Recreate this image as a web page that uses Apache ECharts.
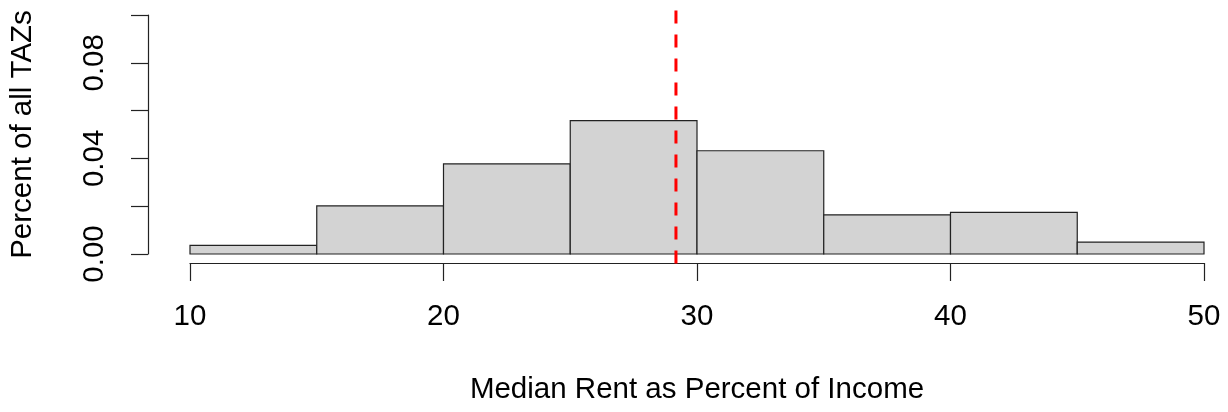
<!DOCTYPE html>
<html>
<head>
<meta charset="utf-8">
<script src="https://cdn.jsdelivr.net/npm/echarts@6/dist/echarts.min.js"></script>
<style>
html,body{margin:0;padding:0;background:#fff;}
#chart{width:1228px;height:412px;}
</style>
</head>
<body>
<div id="chart"></div>
<script>
// Histogram data (density scale)
const binStart = [10, 15, 20, 25, 30, 35, 40, 45];
const binEnd = [15, 20, 25, 30, 35, 40, 45, 50];
const density = [0.0036, 0.0201, 0.0377, 0.0558, 0.0432, 0.0164, 0.0174, 0.0050];
const medianValue = 29.17;
const xTickValues = [10, 20, 30, 40, 50];
const yLabelledTicks = ['0.00', '0.04', '0.08'];
const xTitle = 'Median Rent as Percent of Income';
const yTitle = 'Percent of all TAZs';

const FONT = 'Liberation Sans, Arial, sans-serif';
const FS = 29.5;
const chart = echarts.init(document.getElementById('chart'), null, {renderer: 'canvas'});

const histData = binStart.map((s, i) => [s, binEnd[i], density[i]]);

const option = {
  animation: false,
  backgroundColor: '#ffffff',
  grid: {left: 189, right: 24, top: 15, bottom: 158, containLabel: false},
  xAxis: {
    type: 'value', min: 10, max: 50, interval: 10,
    offset: 9,
    name: xTitle, nameLocation: 'middle', nameGap: 112,
    nameTextStyle: {fontFamily: FONT, fontSize: FS, color: '#000'},
    axisLine: {show: true, onZero: false, lineStyle: {color: '#222', width: 1.2}},
    axisTick: {show: true, length: 18, lineStyle: {color: '#222', width: 1.2}},
    axisLabel: {show: true, margin: 39, fontFamily: FONT, fontSize: FS, color: '#000',
      formatter: v => xTickValues.indexOf(v) >= 0 ? String(v) : ''},
    splitLine: {show: false}
  },
  yAxis: {
    type: 'value', min: 0, max: 0.1, interval: 0.02,
    offset: 42,
    name: yTitle, nameLocation: 'middle', nameGap: 110,
    nameTextStyle: {fontFamily: FONT, fontSize: FS, color: '#000'},
    axisLine: {show: true, onZero: false, lineStyle: {color: '#222', width: 1.2}},
    axisTick: {show: true, length: 17, lineStyle: {color: '#222', width: 1.2}},
    axisLabel: {show: true, rotate: 90, margin: 38, fontFamily: FONT, fontSize: FS, color: '#000',
      formatter: v => { const s = v.toFixed(2); return yLabelledTicks.indexOf(s) >= 0 ? s : ''; }},
    splitLine: {show: false}
  },
  series: [
    {
      type: 'custom',
      data: histData,
      clip: false,
      renderItem: function (params, api) {
        const p0 = api.coord([api.value(0), 0]);
        const p1 = api.coord([api.value(1), api.value(2)]);
        return {
          type: 'rect',
          shape: {x: p0[0], y: p1[1], width: p1[0] - p0[0], height: p0[1] - p1[1]},
          style: {fill: '#d3d3d3', stroke: '#222', lineWidth: 1.2}
        };
      },
      encode: {x: [0, 1], y: 2},
      z: 2
    },
    {
      type: 'line',
      data: [[medianValue, -0.004], [medianValue, 0.104]],
      clip: false,
      symbol: 'none',
      lineStyle: {color: '#ff0000', width: 3, type: [13, 11]},
      z: 5,
      silent: true
    }
  ]
};
chart.setOption(option);
</script>
</body>
</html>
